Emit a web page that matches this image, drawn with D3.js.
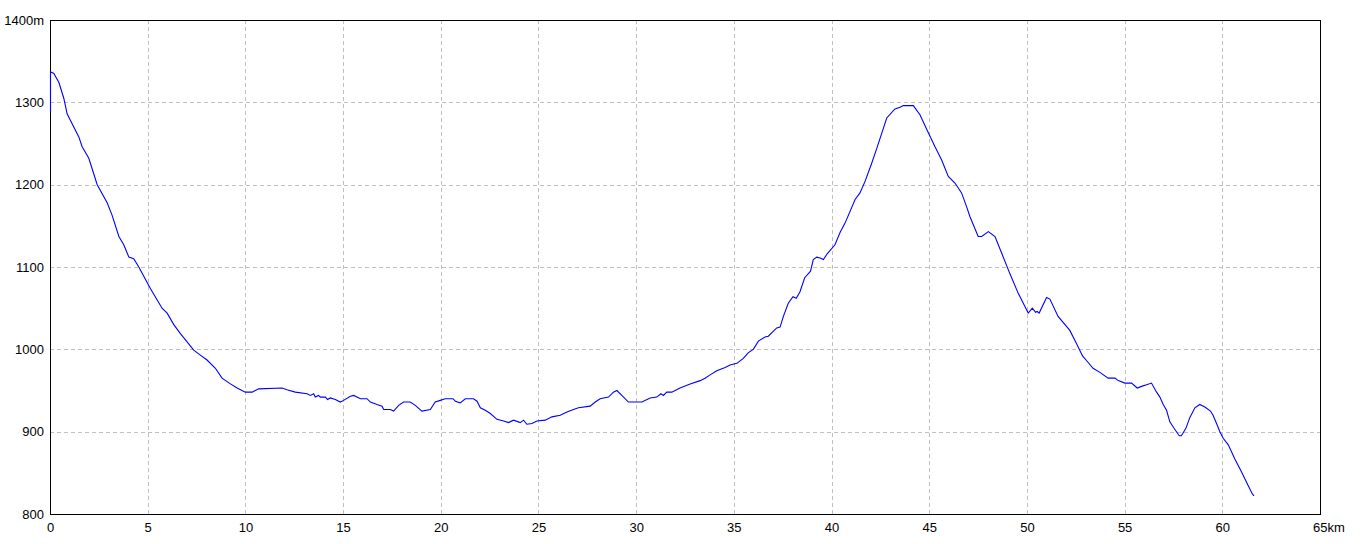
<!DOCTYPE html>
<html><head><meta charset="utf-8">
<script src="https://cdn.jsdelivr.net/npm/d3@7"></script>
<style>
html,body{margin:0;padding:0;background:#fff;}
svg text{font-family:"Liberation Sans",Arial,sans-serif;font-size:13px;fill:#000;}
</style></head>
<body><svg id="c" width="1360" height="544"></svg>
<script>
const distanceKm = [0,0,0.17,0.43,0.68,0.85,1.45,1.62,1.96,2.39,2.90,3.15,3.50,3.75,4.01,4.26,4.52,5.11,5.71,5.97,6.31,6.65,7.33,7.67,8.01,8.44,8.78,9.21,9.55,9.97,10.32,10.66,11.85,12.1,12.53,13.13,13.3,13.47,13.55,13.72,13.81,14.07,14.18,14.32,14.58,14.83,15.0,15.35,15.52,15.86,16.2,16.37,16.71,16.97,17.05,17.39,17.56,17.82,18.07,18.41,18.67,19.01,19.44,19.69,19.95,20.2,20.6,20.72,20.97,21.23,21.65,21.83,22.0,22.25,22.51,22.85,23.19,23.44,23.7,24.04,24.21,24.38,24.64,24.9,25.32,25.66,26.09,26.43,26.77,27.02,27.62,27.88,28.13,28.56,28.81,28.99,29.24,29.58,30.01,30.27,30.69,31.03,31.24,31.37,31.54,31.8,32.22,32.74,33.25,33.5,33.76,34.1,34.53,34.78,35.13,35.29,35.46,35.72,35.97,36.23,36.57,36.74,37.0,37.17,37.34,37.51,37.76,38.0,38.17,38.36,38.6,38.9,39.04,39.22,39.39,39.56,39.75,40.15,40.41,40.66,41.18,41.43,41.69,42.03,42.29,42.55,42.8,43.22,43.48,43.65,44.16,44.5,44.85,45.27,45.61,45.95,46.29,46.63,46.89,47.06,47.48,47.66,48.0,48.34,48.68,49.1,49.53,50.04,50.25,50.42,50.5,50.6,50.98,51.15,51.57,52.0,52.17,52.51,52.82,53.11,53.36,53.71,54.13,54.48,54.65,54.99,55.33,55.62,55.84,56.1,56.35,56.61,56.78,56.95,57.12,57.29,57.54,57.77,57.88,58.11,58.31,58.57,58.82,59.08,59.37,59.5,59.68,59.85,60.02,60.28,60.61,60.96,61.29,61.52,61.6];
const elevationM = [1288,1337,1335,1324,1305,1286,1258,1246,1232,1200,1178,1163,1137,1127,1112,1110,1100,1074,1050,1044,1030,1019,999,993,987,977,965,958,953,948,948,952,953,951,948,946,944,946,942,944,942,942,939,941,939,936,938,943,944,940,940,936,933,931,927,927,925,932,936,936,932,925,927,936,938,940,940,937,935,940,940,937,929,926,922,915,913,911,914,911,914,909,910,913,914,918,920,924,927,929,931,936,940,942,948,950,944,936,936,936,941,942,946,944,948,948,953,958,962,965,969,974,978,981,983,986,989,996,1000,1010,1015,1016,1022,1026,1027,1040,1056,1064,1062,1070,1087,1095,1109,1112,1111,1109,1116,1127,1142,1153,1182,1190,1204,1226,1244,1263,1281,1292,1294,1296,1296,1285,1267,1246,1230,1210,1202,1190,1173,1161,1137,1137,1143,1137,1117,1092,1068,1044,1050,1045,1046,1044,1063,1061,1040,1028,1023,1007,992,984,977,972,965,965,962,959,959,953,955,957,959,948,942,933,926,912,903,895,895,904,917,929,933,930,925,920,910,900,892,884,867,851,835,824,822];
const xTicks = [0,5,10,15,20,25,30,35,40,45,50,55,60,65];
const yTicks = [800,900,1000,1100,1200,1300,1400];
const xUnit = "km";
const yUnit = "m";

const svg = d3.select("#c");
const x = d3.scaleLinear().domain([0,65]).range([50,1320]);
const y = d3.scaleLinear().domain([800,1400]).range([514,20]);

// grid
const g = svg.append("g").attr("shape-rendering","crispEdges");
g.selectAll("line.vx").data(xTicks.filter(d=>d>0&&d<65)).join("line")
  .attr("x1",d=>Math.round(x(d))+0.5).attr("x2",d=>Math.round(x(d))+0.5)
  .attr("y1",y(1400)).attr("y2",y(800))
  .attr("stroke","#c0c0c0").attr("stroke-dasharray","4,3");
g.selectAll("line.hy").data(yTicks.filter(d=>d>800&&d<1400)).join("line")
  .attr("y1",d=>Math.round(y(d))+0.5).attr("y2",d=>Math.round(y(d))+0.5)
  .attr("x1",x(0)).attr("x2",x(65))
  .attr("stroke","#c0c0c0").attr("stroke-dasharray","4,3");

// frame
svg.append("rect").attr("x",x(0)+0.5).attr("y",Math.round(y(1400))+0.5)
  .attr("width",x(65)-x(0)).attr("height",Math.round(y(800))-Math.round(y(1400)))
  .attr("fill","none").attr("stroke","#000").attr("shape-rendering","crispEdges");

// line
const pts = distanceKm.map((d,i)=>[d,elevationM[i]]);
svg.append("path").datum(pts)
  .attr("d",d3.line().x(d=>x(d[0])+0.5).y(d=>y(d[1])))
  .attr("fill","none").attr("stroke","#0000ff").attr("stroke-width",1.1);

// axes
const yAxis = d3.axisLeft(y).tickValues(yTicks).tickSize(0).tickPadding(6)
  .tickFormat(d=> d===1400 ? d+yUnit : String(d));
const ya = svg.append("g").attr("transform",`translate(${x(0)},0)`).call(yAxis);
ya.select(".domain").remove();
ya.selectAll("text").style("font-family","Liberation Sans, Arial, sans-serif").style("font-size","13px");

const xAxis = d3.axisBottom(x).tickValues(xTicks).tickSize(0).tickPadding(9)
  .tickFormat(d=>String(d));
const xa = svg.append("g").attr("transform",`translate(0,${y(800)})`).call(xAxis);
xa.select(".domain").remove();
xa.selectAll("text").style("font-family","Liberation Sans, Arial, sans-serif").style("font-size","13px");
xa.selectAll(".tick").filter(d=>d===65).select("text")
  .attr("text-anchor","start").attr("x",-7.5).text(d=>d+xUnit);
</script></body></html>
